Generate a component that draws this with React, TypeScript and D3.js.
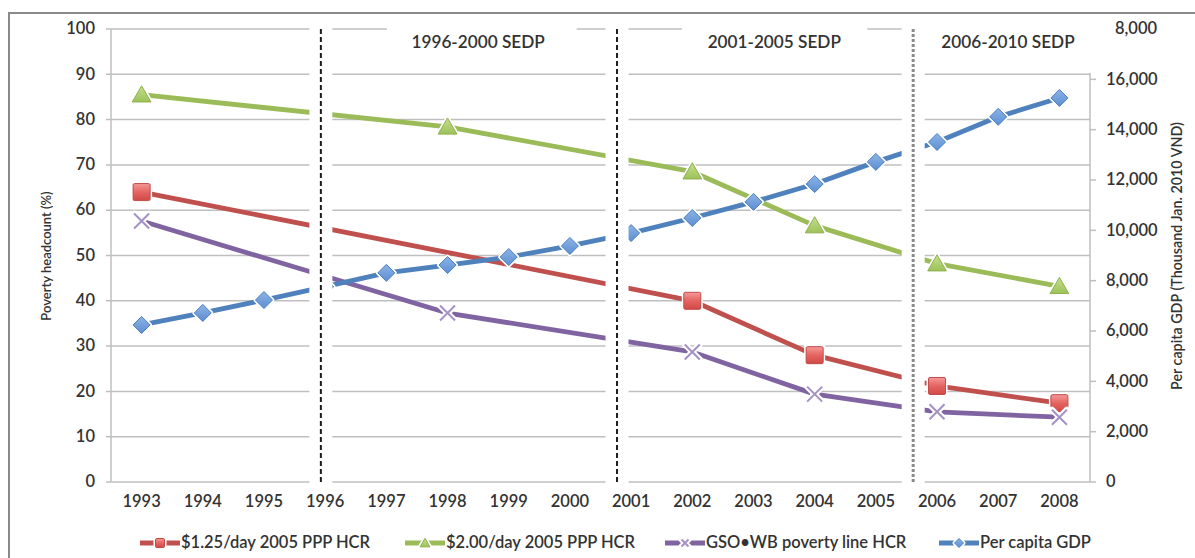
import React from 'react';
import * as d3 from 'd3';

// ---------- data ----------
const years = [1993, 1994, 1995, 1996, 1997, 1998, 1999, 2000, 2001, 2002, 2003, 2004, 2005, 2006, 2007, 2008];
const yearLabels = years.map(String);

const leftTicks = [0, 10, 20, 30, 40, 50, 60, 70, 80, 90, 100];
const rightTicks = [0, 2000, 4000, 6000, 8000, 10000, 12000, 14000, 16000, 18000];
const rightTickLabels = ['0', '2,000', '4,000', '6,000', '8,000', '10,000', '12,000', '14,000', '16,000', '8,000'];

const hcr125Years = [1993, 2002, 2004, 2006, 2008];
const hcr125 = [64.0, 40.0, 28.0, 21.2, 17.4];

const hcr200Years = [1993, 1998, 2002, 2004, 2006, 2008];
const hcr200 = [85.5, 78.4, 68.5, 56.6, 48.2, 43.2];

const gsoYears = [1993, 1998, 2002, 2004, 2006, 2008];
const gso = [57.6, 37.3, 28.7, 19.4, 15.5, 14.3];

const gdpYears = years;
const gdp = [6240, 6720, 7230, 7760, 8310, 8620, 8940, 9380, 9890, 10490, 11130, 11840, 12720, 13510, 14510, 15260];

// plan-period boundaries (in year units) and the period titles
const sedpSeparators = [1995.93, 2000.77, 2005.61];
const sedpLabels = ['1996-2000 SEDP', '2001-2005 SEDP', '2006-2010 SEDP'];
const sedpLabelYears = [1998.5, 2003.34, 2007.16];
const sedpBoxStart = [1997.01, 2001.83, 2005.78];
const sedpBoxEnd = [2000.11, 2004.86, 2008.62];

const legendLabels = ['$1.25/day 2005 PPP HCR', '$2.00/day 2005 PPP HCR', 'GSO\u2022WB poverty line HCR', 'Per capita GDP'];

// ---------- layout ----------
const W = 1195;
const H = 558;
const plotLeft = 111;
const plotRight = 1090;
const plotTop = 29;
const plotBottom = 482;
const FONT = "Lato, 'Open Sans', 'Liberation Sans', sans-serif";
const TXT = '#333333';
const GRID = '#bfbfbf';
const FS = 16.5;

const RED = '#C0504D';
const GREEN = '#9BBB59';
const PURPLE = '#8064A2';
const BLUE = '#4F81BD';

const xLin = d3.scaleLinear().domain([1992.5, 2008.5]).range([plotLeft, plotRight]);
const yL = d3.scaleLinear().domain([0, 100]).range([plotBottom, plotTop]);
const yR = d3.scaleLinear().domain([0, 18000]).range([plotBottom, plotTop]);

type Pt = [number, number];
const lineGen = d3.line<Pt>().x((d) => d[0]).y((d) => d[1]);

function pts(xs: number[], vs: number[], ys: d3.ScaleLinear<number, number>): Pt[] {
  return xs.map((yr, i) => [xLin(yr), ys(vs[i])] as Pt);
}

type Shape = 'square' | 'triangle' | 'x' | 'diamond';

function Marker({ x, y, shape, s }: { x: number; y: number; shape: Shape; s: number }) {
  if (shape === 'square') {
    const h = s / 2;
    return (
      <g>
        <rect x={x - h} y={y - h} width={s} height={s} fill="#fff" stroke="#fff" strokeWidth={4} />
        <rect x={x - h} y={y - h} width={s} height={s} rx={1.5} fill="url(#gRed)" stroke="#c04a47" strokeWidth={1} />
      </g>
    );
  }
  if (shape === 'triangle') {
    const w = s * 1.1;
    const h = s * 0.95;
    const d = `M${x},${y - h * 0.55}L${x + w / 2},${y + h * 0.45}L${x - w / 2},${y + h * 0.45}Z`;
    return (
      <g>
        <path d={d} fill="#fff" stroke="#fff" strokeWidth={4} strokeLinejoin="round" />
        <path d={d} fill="url(#gGreen)" stroke="#8fb04c" strokeWidth={1} />
      </g>
    );
  }
  if (shape === 'diamond') {
    const h = s / 2;
    const d = `M${x},${y - h}L${x + h},${y}L${x},${y + h}L${x - h},${y}Z`;
    return (
      <g>
        <path d={d} fill="#fff" stroke="#fff" strokeWidth={4} strokeLinejoin="round" />
        <path d={d} fill="url(#gBlue)" stroke="#4a7fc0" strokeWidth={1} />
      </g>
    );
  }
  const h = s / 2;
  const d = `M${x - h},${y - h}L${x + h},${y + h}M${x + h},${y - h}L${x - h},${y + h}`;
  return (
    <g>
      <path d={d} stroke="#fff" strokeWidth={6} strokeLinecap="round" fill="none" />
      <path d={d} stroke="#a491c6" strokeWidth={2} fill="none" />
    </g>
  );
}

function Series({ p, color, shape, size }: { p: Pt[]; color: string; shape: Shape; size: number }) {
  return (
    <g>
      <path d={lineGen(p) ?? ''} fill="none" stroke={color} strokeWidth={4.8} strokeLinejoin="round" />
      {p.map((q, i) => (
        <Marker key={i} x={q[0]} y={q[1]} shape={shape} s={size} />
      ))}
    </g>
  );
}

export default function App() {
  const redPts = pts(hcr125Years, hcr125, yL);
  const greenPts = pts(hcr200Years, hcr200, yL);
  const purplePts = pts(gsoYears, gso, yL);
  const bluePts = pts(gdpYears, gdp, yR);

  const bandHalf = 11.5;
  const legendX = [140, 405, 665, 939];
  const legendColors = [RED, GREEN, PURPLE, BLUE];
  const legendShapes: Shape[] = ['square', 'triangle', 'x', 'diamond'];
  const legendY = 543;

  return (
    <svg width={W} height={H} style={{ position: 'absolute', left: 0, top: 0, background: '#fff' }} fontFamily={FONT}>
      <defs>
        <linearGradient id="gRed" x1="0" y1="0" x2="0" y2="1">
          <stop offset="0" stopColor="#f59a98" />
          <stop offset="0.5" stopColor="#e46461" />
          <stop offset="1" stopColor="#d04a47" />
        </linearGradient>
        <linearGradient id="gGreen" x1="0" y1="0" x2="0" y2="1">
          <stop offset="0" stopColor="#c4df8e" />
          <stop offset="1" stopColor="#9cc259" />
        </linearGradient>
        <linearGradient id="gBlue" x1="0" y1="0" x2="0" y2="1">
          <stop offset="0" stopColor="#8cb3e6" />
          <stop offset="1" stopColor="#5d8fd2" />
        </linearGradient>
      </defs>

      {/* frame */}
      <path d={`M9,${H}L9,13L${W},13`} fill="none" stroke="#8a8a8a" strokeWidth={2} />

      {/* gridlines */}
      {leftTicks.map((t) => (
        <line key={t} x1={plotLeft - 5} x2={plotRight} y1={yL(t)} y2={yL(t)} stroke={GRID} strokeWidth={1.5} />
      ))}
      <line x1={plotLeft} x2={plotLeft} y1={plotTop} y2={plotBottom} stroke={GRID} strokeWidth={1.5} />
      <line x1={plotRight} x2={plotRight} y1={plotTop} y2={plotBottom} stroke={GRID} strokeWidth={1.5} />
      {rightTicks.map((t) => (
        <line key={t} x1={plotRight} x2={plotRight + 6} y1={yR(t)} y2={yR(t)} stroke={GRID} strokeWidth={1.5} />
      ))}

      {/* series */}
      <Series p={redPts} color={RED} shape="square" size={17} />
      <Series p={greenPts} color={GREEN} shape="triangle" size={17} />
      <Series p={purplePts} color={PURPLE} shape="x" size={15} />
      <Series p={bluePts} color={BLUE} shape="diamond" size={17} />

      {/* period gaps and separators */}
      {sedpSeparators.map((s, i) => (
        <rect key={'b' + i} x={xLin(s) - bandHalf} y={plotTop - 4} width={bandHalf * 2} height={plotBottom - plotTop + 8} fill="#fff" />
      ))}
      {sedpSeparators.map((s, i) => (
        <line
          key={'d' + i}
          x1={xLin(s)}
          x2={xLin(s)}
          y1={plotTop}
          y2={plotBottom + 2}
          stroke={i === 2 ? '#8a8a8a' : '#1e1e1e'}
          strokeWidth={i === 2 ? 3 : 2}
          strokeDasharray={i === 2 ? '3,2' : '5,3'}
        />
      ))}

      {/* period title boxes */}
      {sedpLabels.map((lab, i) => (
        <g key={lab}>
          <rect x={xLin(sedpBoxStart[i])} y={16} width={xLin(sedpBoxEnd[i]) - xLin(sedpBoxStart[i])} height={i === 2 ? 57 : 55} fill="#fff" />
          <text x={xLin(sedpLabelYears[i])} y={44} textAnchor="middle" dominantBaseline="middle" fontSize={17.2} fontWeight={600} fill={TXT}>
            {lab}
          </text>
        </g>
      ))}

      {/* left tick labels */}
      {leftTicks.map((t) => (
        <text key={t} x={95} y={yL(t) + 1} textAnchor="end" dominantBaseline="middle" fontSize={FS} fontWeight={600} fill={TXT}>
          {t}
        </text>
      ))}
      {/* right tick labels */}
      {rightTicks.map((t, i) => (
        <text
          key={t}
          x={i === rightTicks.length - 1 ? 1115 : 1106}
          y={yR(t) + 1}
          textAnchor="start"
          dominantBaseline="middle"
          fontSize={FS}
          fontWeight={600}
          fill={TXT}
        >
          {rightTickLabels[i]}
        </text>
      ))}
      {/* x tick labels */}
      {years.map((yr, i) => (
        <text key={yr} x={xLin(yr)} y={503} textAnchor="middle" dominantBaseline="middle" fontSize={FS} fontWeight={600} fill={TXT}>
          {yearLabels[i]}
        </text>
      ))}

      {/* axis titles */}
      <text transform="translate(48,256) rotate(-90)" textAnchor="middle" dominantBaseline="middle" fontSize={13} fontWeight={600} fill={TXT}>
        Poverty headcount (%)
      </text>
      <text transform="translate(1178,256) rotate(-90)" textAnchor="middle" dominantBaseline="middle" fontSize={14.3} fontWeight={600} fill={TXT}>
        Per capita GDP (Thousand Jan. 2010 VND)
      </text>

      {/* legend */}
      {legendLabels.map((lab, i) => (
        <g key={lab}>
          <line x1={legendX[i]} x2={legendX[i] + 40} y1={legendY} y2={legendY} stroke={legendColors[i]} strokeWidth={4.8} />
          <Marker x={legendX[i] + 20} y={legendY} shape={legendShapes[i]} s={legendShapes[i] === 'x' ? 7 : 9} />
          <text x={legendX[i] + 41} y={legendY + 1} dominantBaseline="middle" fontSize={FS} fontWeight={600} fill={TXT}>
            {lab}
          </text>
        </g>
      ))}
    </svg>
  );
}
